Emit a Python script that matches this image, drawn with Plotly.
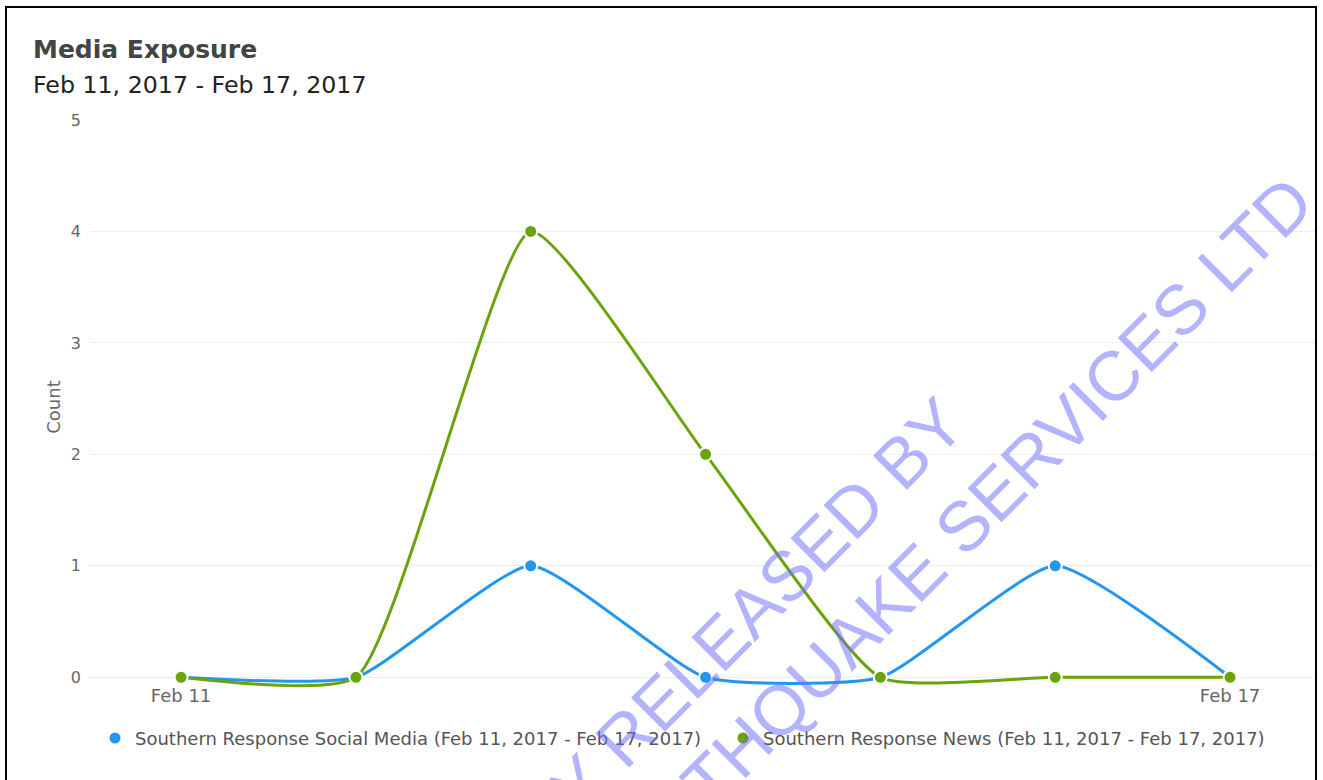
import plotly.graph_objects as go

dates = ["2017-02-11", "2017-02-12", "2017-02-13", "2017-02-14",
         "2017-02-15", "2017-02-16", "2017-02-17"]
social_media = [0, 0, 1, 0, 0, 1, 0]
news = [0, 0, 4, 2, 0, 0, 0]
tick_vals = ["2017-02-11", "2017-02-17"]
tick_text = ["Feb 11", "Feb 17"]
series_names = ["Southern Response Social Media (Feb 11, 2017 - Feb 17, 2017)",
                "Southern Response News (Feb 11, 2017 - Feb 17, 2017)"]
title_text = "Media Exposure"
subtitle_text = "Feb 11, 2017 - Feb 17, 2017"
watermark_1 = "PROACTIVELY RELEASED BY"
watermark_2 = "SOUTHERN RESPONSE EARTHQUAKE SERVICES LTD"

BLUE = "#2196f3"
GREEN = "#6aa30a"
FONT = "DejaVu Sans"

W, H = 1323, 780
Y_MIN, Y_MAX = -0.15, 5
L, R, T = 90, 7, 120
UNIT = (677 - 120) / 5.0
B = H - (677 + (-Y_MIN) * UNIT)
PW, PH = W - L - R, H - T - B


def px(xp):
    return (xp - L) / PW


def py(yp):
    return (H - B - yp) / PH


fig = go.Figure()
for vals, color in [(social_media, BLUE), (news, GREEN)]:
    fig.add_trace(go.Scatter(
        x=dates, y=vals, mode="lines+markers",
        line=dict(color=color, width=3, shape="spline", smoothing=0.5),
        marker=dict(color=color, size=13, line=dict(color="white", width=2)),
        cliponaxis=False, showlegend=False,
    ))
for name, color, lw in zip(series_names, [BLUE, GREEN], [583, None]):
    fig.add_trace(go.Scatter(
        x=[None], y=[None], mode="markers", name=name,
        marker=dict(color=color, size=11), legendwidth=lw,
    ))

fig.update_layout(
    width=W, height=H,
    margin=dict(l=L, r=R, t=T, b=B, autoexpand=False),
    paper_bgcolor="white", plot_bgcolor="white",
    font=dict(family=FONT, color="#666666", size=16),
    xaxis=dict(
        type="date",
        range=["2017-02-10 11:30", "2017-02-17 11:48"],
        tickvals=tick_vals, ticktext=tick_text,
        showgrid=False, zeroline=False, showline=False,
        ticks="", tickfont=dict(size=18, color="#666666"),
        ticklabelstandoff=-11,
    ),
    yaxis=dict(
        range=[Y_MIN, Y_MAX], tick0=0, dtick=1,
        showgrid=True, gridcolor="#eeeeee", gridwidth=1,
        zeroline=False, showline=False, ticks="",
        tickfont=dict(size=16, color="#666666"),
        ticklabelstandoff=8,
        title=dict(text="Count", font=dict(size=18, color="#666666"), standoff=5),
    ),
    legend=dict(
        orientation="h", x=px(95), xanchor="left", y=py(738), yanchor="middle",
        font=dict(size=18, color="#555555"), bgcolor="rgba(0,0,0,0)",
        itemwidth=30,
    ),
    showlegend=True,
    annotations=[
        dict(text="<b>" + title_text + "</b>", xref="paper", yref="paper",
             x=px(31), y=py(50), xanchor="left", yanchor="middle",
             showarrow=False, font=dict(size=25, color="#444444", family=FONT)),
        dict(text=subtitle_text, xref="paper", yref="paper",
             x=px(31), y=py(85), xanchor="left", yanchor="middle",
             showarrow=False, font=dict(size=23.7, color="#222222", family=FONT)),
        dict(text=watermark_1, xref="paper", yref="paper",
             x=px(602), y=py(761), xanchor="center", yanchor="middle",
             textangle=-45, showarrow=False,
             font=dict(size=70, color="rgba(110,110,255,0.52)", family="Liberation Sans")),
        dict(text=watermark_2, xref="paper", yref="paper",
             x=px(657), y=py(833), xanchor="center", yanchor="middle",
             textangle=-45, showarrow=False,
             font=dict(size=70, color="rgba(110,110,255,0.52)", family="Liberation Sans")),
    ],
    shapes=[
        dict(type="rect", xref="paper", yref="paper",
             x0=px(6), x1=px(1316), y0=py(800), y1=py(7),
             line=dict(color="black", width=2), fillcolor="rgba(0,0,0,0)",
             layer="above"),
    ],
)

fig.write_html("out.html", config={"displayModeBar": False},
               post_script="document.body.style.margin='0px';document.body.style.overflow='hidden';")
